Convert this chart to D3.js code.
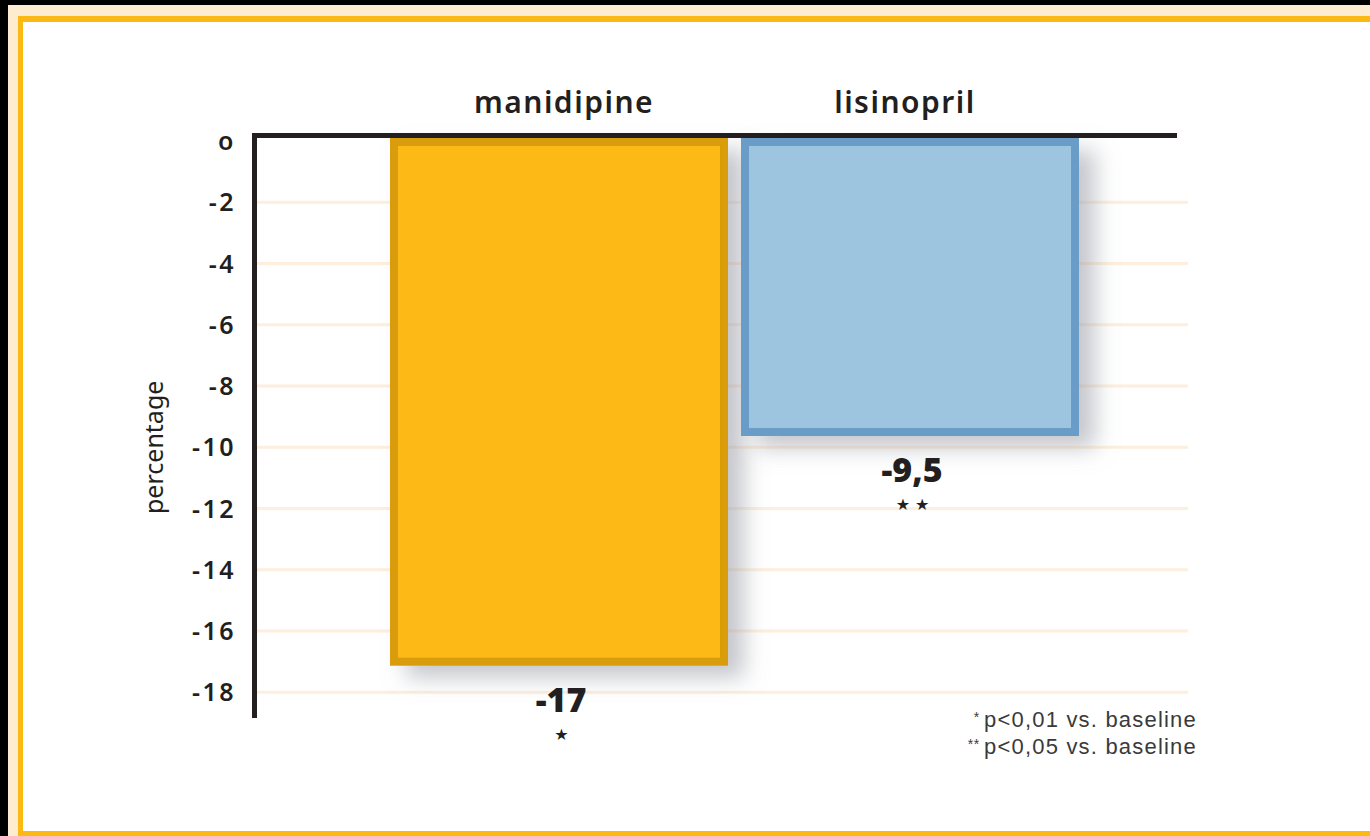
<!DOCTYPE html>
<html>
<head>
<meta charset="utf-8">
<script src="https://cdn.jsdelivr.net/npm/d3@7"></script>
<style>
  body { margin: 0; background: #000; }
  svg { display: block; }
</style>
</head>
<body>
<div id="chart"></div>
<script>
// data
let drugs = ['manidipine', 'lisinopril'];
let changes = [-17, -9.5];
let changeLabels = ['-17', '-9,5'];
let stars = ['*', '**'];
let yTicks = [0, -2, -4, -6, -8, -10, -12, -14, -16, -18];
let notes = ['p<0,01 vs. baseline', 'p<0,05 vs. baseline'];

let width = 1370, height = 836;

let svg = d3.select('#chart')
  .append('svg')
    .attr('width', width)
    .attr('height', height);

let defs = svg.append('defs');
let shadow = defs.append('filter')
  .attr('id', 'shadow')
  .attr('x', '-10%').attr('y', '-10%')
  .attr('width', '140%').attr('height', '140%');
shadow.append('feDropShadow')
  .attr('dx', 16).attr('dy', 12)
  .attr('stdDeviation', 11)
  .attr('flood-color', '#8a8f99')
  .attr('flood-opacity', 0.5);

// frame: cream band, yellow rule, white panel
svg.append('rect').attr('x', 8).attr('y', 5).attr('width', 1400).attr('height', 900).attr('fill', '#fdecd0');
svg.append('rect').attr('x', 18).attr('y', 16).attr('width', 1400).attr('height', 820).attr('fill', '#fdb913');
svg.append('rect').attr('x', 23).attr('y', 22).attr('width', 1400).attr('height', 809).attr('fill', '#ffffff');

// scales
let x = d3.scaleBand()
  .domain(drugs)
  .range([390, 1079])
  .paddingInner(0.037)
  .paddingOuter(0);

let y = d3.scaleLinear()
  .domain([0, -19])
  .range([141, 723]);

let axisLeft = 254.5;

// grid lines
svg.append('g')
  .selectAll('line')
  .data(yTicks.filter(d => d !== 0))
  .join('line')
    .attr('x1', axisLeft + 2)
    .attr('x2', 1188)
    .attr('y1', d => y(d))
    .attr('y2', d => y(d))
    .attr('stroke', '#fdeedd')
    .attr('stroke-width', 3);

// y tick labels
svg.append('g')
  .selectAll('text')
  .data(yTicks)
  .join('text')
    .attr('x', 236)
    .attr('y', d => y(d))
    .attr('dy', '0.36em')
    .attr('text-anchor', 'end')
    .attr('font-family', '"Noto Sans", sans-serif')
    .attr('font-weight', 600)
    .attr('font-size', 25)
    .attr('letter-spacing', 2.5)
    .attr('fill', '#231f20')
    .text(d => d === 0 ? 'o' : d);

// bars
let colours = {
  manidipine: { fill: '#fdb913', edge: '#d99c07' },
  lisinopril: { fill: '#9ec5df', edge: '#6a9cc8' }
};
let sw = 8;
svg.append('g').selectAll('rect')
  .data(drugs)
  .join('rect')
    .attr('x', d => x(d) + sw / 2)
    .attr('width', x.bandwidth() - sw)
    .attr('y', y(0) + 1)
    .attr('height', (d, i) => y(changes[i]) - y(0) - 1)
    .attr('fill', d => colours[d].fill)
    .attr('stroke', d => colours[d].edge)
    .attr('stroke-width', sw)
    .attr('filter', 'url(#shadow)');

// axes lines
svg.append('line')
  .attr('x1', axisLeft).attr('x2', axisLeft)
  .attr('y1', 133).attr('y2', 718)
  .attr('stroke', '#231f20').attr('stroke-width', 5);
svg.append('line')
  .attr('x1', 252).attr('x2', 1177)
  .attr('y1', 135.5).attr('y2', 135.5)
  .attr('stroke', '#231f20').attr('stroke-width', 5);

// category names on top
svg.append('g').selectAll('text')
  .data(drugs)
  .join('text')
    .attr('x', d => x(d) + x.bandwidth() / 2 + (d === 'manidipine' ? 5 : -5))
    .attr('y', 113)
    .attr('text-anchor', 'middle')
    .attr('font-family', '"Noto Sans", sans-serif')
    .attr('font-weight', 600)
    .attr('font-size', 30)
    .attr('letter-spacing', 1.5)
    .attr('fill', '#231f20')
    .text(d => d);

// value labels under the bars
svg.append('g').selectAll('text')
  .data(drugs)
  .join('text')
    .attr('x', d => x(d) + x.bandwidth() / 2 + 2)
    .attr('y', (d, i) => y(changes[i]) + 50)
    .attr('text-anchor', 'middle')
    .attr('font-family', '"Open Sans", sans-serif')
    .attr('font-weight', 800)
    .attr('font-size', 34)
    .attr('fill', '#231f20')
    .text((d, i) => changeLabels[i]);

svg.append('g').selectAll('text')
  .data(drugs)
  .join('text')
    .attr('x', d => x(d) + x.bandwidth() / 2 + 5)
    .attr('y', (d, i) => y(changes[i]) + 78)
    .attr('text-anchor', 'middle')
    .attr('font-family', '"DejaVu Sans", sans-serif')
    .attr('font-size', 16)
    .attr('letter-spacing', 5)
    .attr('fill', '#231f20')
    .text((d, i) => stars[i].replace(/\*/g, '\u2605'));

// y axis title
svg.append('text')
  .attr('transform', 'translate(163,' + y(-10) + ') rotate(-90)')
  .attr('text-anchor', 'middle')
  .attr('font-family', '"Noto Sans", sans-serif')
  .attr('font-size', 25)
  .attr('fill', '#231f20')
  .text('percentage');

// footnotes
let foot = svg.append('g').selectAll('text')
  .data(notes)
  .join('text')
    .attr('x', 1197)
    .attr('y', (d, i) => 727 + i * 27)
    .attr('text-anchor', 'end')
    .attr('font-family', '"Liberation Sans", Arial, sans-serif')
    .attr('font-size', 22)
    .attr('letter-spacing', 1.2)
    .attr('fill', '#3a3a3a');
foot.append('tspan')
  .attr('font-size', 14)
  .attr('letter-spacing', 0.5)
  .attr('dy', -5)
  .text((d, i) => stars[i] + ' ');
foot.append('tspan')
  .attr('dy', 5)
  .text(d => d);
</script>
</body>
</html>
